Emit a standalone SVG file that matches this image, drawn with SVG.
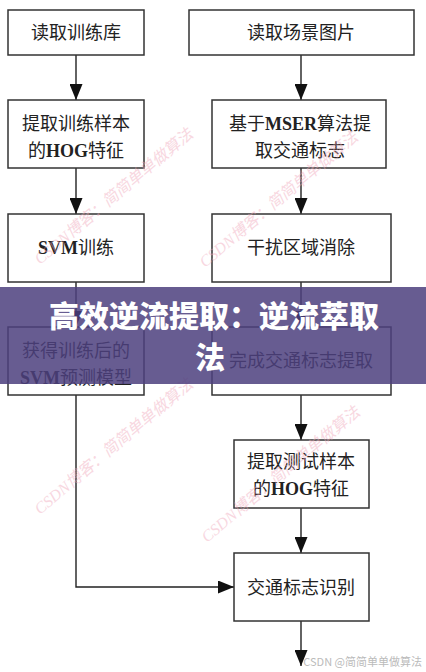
<svg xmlns="http://www.w3.org/2000/svg" width="426" height="672" viewBox="0 0 426 672">
<style>
.box{fill:#fff;stroke:#333;stroke-width:1.5}
.t{font-family:"Liberation Serif","Noto Sans CJK SC",serif;font-size:18px;fill:#222;text-anchor:middle}
.b{font-weight:bold}
.c{fill:none;stroke:#222;stroke-width:1.4}
.wm{font-family:"Liberation Serif","Noto Sans CJK SC",serif;font-style:italic;font-size:16px;fill:#f0a8bb;opacity:0.45}
.bt{font-family:"Noto Sans CJK SC",sans-serif;font-weight:900;font-size:30px;fill:#fff;text-anchor:middle}
</style>
<defs>
<marker id="ah" markerUnits="userSpaceOnUse" markerWidth="16" markerHeight="13" refX="16" refY="6.5" orient="auto">
<path d="M0,0 L16,6.5 L0,13 z" fill="#111"/>
</marker>
</defs>
<rect width="426" height="672" fill="#fff"/>

<g id="connectors">
<line class="c" x1="76" y1="55" x2="76" y2="100" marker-end="url(#ah)"/>
<line class="c" x1="76" y1="168" x2="76" y2="214" marker-end="url(#ah)"/>
<line class="c" x1="76" y1="282" x2="76" y2="327" marker-end="url(#ah)"/>
<polyline class="c" points="76,395 76,587 234,587" marker-end="url(#ah)"/>
<line class="c" x1="301" y1="55" x2="301" y2="100" marker-end="url(#ah)"/>
<line class="c" x1="301" y1="168" x2="301" y2="214" marker-end="url(#ah)"/>
<line class="c" x1="301" y1="282" x2="301" y2="327" marker-end="url(#ah)"/>
<line class="c" x1="301" y1="395" x2="301" y2="440" marker-end="url(#ah)"/>
<line class="c" x1="301" y1="508" x2="301" y2="553" marker-end="url(#ah)"/>
<line class="c" x1="301" y1="621" x2="301" y2="666" marker-end="url(#ah)"/>
</g>

<g id="n1"><rect class="box" x="8" y="10" width="136" height="45"/><text class="t" x="76" y="39">读取训练库</text></g>
<g id="n2"><rect class="box" x="8" y="100" width="136" height="68"/><text class="t" x="76" y="130">提取训练样本</text><text class="t" x="76" y="157">的<tspan class="b">HOG</tspan>特征</text></g>
<g id="n3"><rect class="box" x="8" y="214" width="136" height="68"/><text class="t" x="76" y="254"><tspan class="b">SVM</tspan>训练</text></g>
<g id="n4"><rect class="box" x="8" y="327" width="136" height="68"/><text class="t" x="76" y="357">获得训练后的</text><text class="t" x="76" y="384"><tspan class="b">SVM</tspan>预测模型</text></g>

<g id="n5"><rect class="box" x="189" y="10" width="225" height="45"/><text class="t" x="301" y="39">读取场景图片</text></g>
<g id="n6"><rect class="box" x="212" y="100" width="174" height="68"/><text class="t" x="300" y="130">基于<tspan class="b">MSER</tspan>算法提</text><text class="t" x="300" y="157">取交通标志</text></g>
<g id="n7"><rect class="box" x="212" y="214" width="179" height="68"/><text class="t" x="301" y="254">干扰区域消除</text></g>
<g id="n8"><rect class="box" x="212" y="327" width="179" height="68"/><text class="t" x="301" y="367">完成交通标志提取</text></g>
<g id="n9"><rect class="box" x="234" y="440" width="135" height="68"/><text class="t" x="301" y="468">提取测试样本</text><text class="t" x="301" y="495">的<tspan class="b">HOG</tspan>特征</text></g>
<g id="n10"><rect class="box" x="234" y="553" width="135" height="68"/><text class="t" x="301" y="594">交通标志识别</text></g>

<g id="watermarks">
<text class="wm" transform="translate(40,265) rotate(-40)">CSDN博客：简简单单做算法</text>
<text class="wm" transform="translate(205,268) rotate(-40)">CSDN博客：简简单单做算法</text>
<text class="wm" transform="translate(40,515) rotate(-40)">CSDN博客：简简单单做算法</text>
<text class="wm" transform="translate(207,543) rotate(-40)">CSDN博客：简简单单做算法</text>
</g>

<g id="banner">
<rect x="0" y="287" width="426" height="97" fill="#4c3f7e" opacity="0.85"/>
<text class="bt" x="214" y="327">高效逆流提取：逆流萃取</text>
<text class="bt" x="210" y="368">法</text>
</g>

<text x="422" y="666" font-family="'Noto Sans CJK SC',sans-serif" font-size="11" fill="#bbb" text-anchor="end">CSDN @简简单单做算法</text>
</svg>
